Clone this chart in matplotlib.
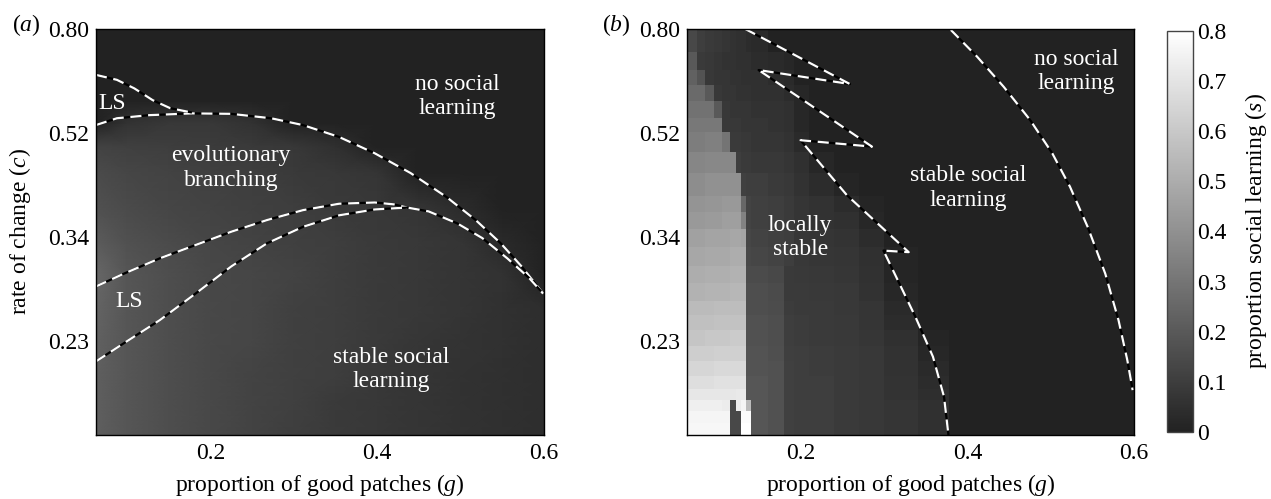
import numpy as np
import matplotlib
matplotlib.use("Agg")
import matplotlib.pyplot as plt
from matplotlib.colors import LinearSegmentedColormap
from matplotlib.ticker import NullLocator

plt.rcParams['font.family'] = ['Liberation Serif', 'DejaVu Serif']
plt.rcParams['mathtext.fontset'] = 'custom'
plt.rcParams['mathtext.rm'] = 'Liberation Serif'
plt.rcParams['mathtext.it'] = 'Liberation Serif:italic'
plt.rcParams['font.size'] = 17

# ---- axes ticks ----
g_ticks = [0.2, 0.4, 0.6]
g_tick_labels = ['0.2', '0.4', '0.6']
c_ticks = [0.23, 0.3486, 0.528, 0.80]
c_tick_labels = ['0.23', '0.34', '0.52', '0.80']
s_ticks = [0, 0.1, 0.2, 0.3, 0.4, 0.5, 0.6, 0.7, 0.8]
s_tick_labels = ['0', '0.1', '0.2', '0.3', '0.4', '0.5', '0.6', '0.7', '0.8']

# ---- panel (a): proportion social learning, smooth grid (rows bottom -> top) ----
g_a = [0.063, 0.1, 0.15, 0.2, 0.25, 0.3, 0.35, 0.4, 0.45, 0.5, 0.55, 0.6]
c_a = [0.158, 0.18, 0.2, 0.23, 0.26, 0.3, 0.34, 0.39, 0.45, 0.5, 0.55, 0.6, 0.7, 0.8]
s_a = [
    [.22, .19, .16, .14, .12, .10, .09, .08, .07, .06, .05, .045],
    [.22, .19, .16, .14, .12, .11, .09, .08, .07, .06, .05, .045],
    [.22, .19, .16, .14, .12, .11, .10, .08, .07, .06, .05, .045],
    [.23, .19, .16, .14, .13, .11, .10, .09, .075, .065, .055, .045],
    [.24, .19, .16, .14, .13, .11, .10, .09, .08, .07, .055, .045],
    [.25, .19, .16, .14, .13, .12, .10, .09, .08, .07, .06, 0],
    [.21, .17, .15, .13, .12, .11, .10, .09, .08, .07, .03, 0],
    [.17, .15, .13, .12, .11, .10, .09, .08, .07, .04, 0, 0],
    [.15, .13, .12, .11, .10, .09, .08, .07, 0, 0, 0, 0],
    [.12, .11, .10, .095, .09, .08, .05, 0, 0, 0, 0, 0],
    [0, .06, .08, .08, .06, 0, 0, 0, 0, 0, 0, 0],
    [0, 0, 0, 0, 0, 0, 0, 0, 0, 0, 0, 0],
    [0, 0, 0, 0, 0, 0, 0, 0, 0, 0, 0, 0],
    [0, 0, 0, 0, 0, 0, 0, 0, 0, 0, 0, 0],
]

# boundary curves in (a)
g_a_upper = [0.063, 0.088, 0.127, 0.178, 0.225, 0.273, 0.311, 0.354, 0.397, 0.440, 0.483, 0.518, 0.548, 0.573, 0.599]
c_a_upper = [0.545, 0.560, 0.567, 0.571, 0.570, 0.560, 0.545, 0.520, 0.487, 0.450, 0.409, 0.373, 0.340, 0.310, 0.278]
g_a_ls = [0.063, 0.088, 0.109, 0.131, 0.152, 0.178]
c_a_ls = [0.666, 0.653, 0.631, 0.602, 0.583, 0.573]
g_a_mid = [0.063, 0.0965, 0.1395, 0.1824, 0.2254, 0.2683, 0.3113, 0.3543, 0.3972, 0.4200, 0.436]
c_a_mid = [0.286, 0.301, 0.320, 0.3375, 0.356, 0.373, 0.388, 0.398, 0.400, 0.397, 0.392]
g_a_low = [0.063, 0.0965, 0.1395, 0.1824, 0.2254, 0.2683, 0.3113, 0.3543, 0.397, 0.436, 0.4617, 0.496, 0.526, 0.556, 0.582, 0.599]
c_a_low = [0.212, 0.228, 0.250, 0.278, 0.310, 0.340, 0.363, 0.380, 0.389, 0.392, 0.386, 0.368, 0.347, 0.320, 0.296, 0.278]

# ---- panel (b): grid with cell edges (rows bottom -> top) ----
g_b = [0.063, 0.075, 0.085, 0.095, 0.105, 0.115, 0.122, 0.128, 0.134, 0.14,
       0.16, 0.18, 0.192, 0.21, 0.24, 0.27, 0.30, 0.34, 0.378, 0.6]
c_b = [0.158, 0.166, 0.174, 0.182, 0.19, 0.2, 0.212, 0.225, 0.24, 0.255, 0.27,
       0.29, 0.31, 0.335, 0.36, 0.385, 0.41, 0.45, 0.49, 0.53, 0.56, 0.6,
       0.64, 0.68, 0.73, 0.8]
s_b = [
    [.77, .77, .77, .77, .77, .14, .14, .80, .80, .19, .17, .11, .10, .10, .09, .08, .07, .05, 0],
    [.76, .76, .76, .76, .76, .14, .14, .79, .79, .19, .17, .11, .10, .10, .09, .08, .07, .05, 0],
    [.74, .74, .74, .74, .73, .14, .73, .76, .55, .19, .17, .11, .10, .10, .09, .08, .07, .05, 0],
    [.71, .71, .71, .71, .71, .71, .72, .72, .19, .19, .17, .11, .10, .10, .09, .08, .065, .045, 0],
    [.68, .68, .68, .69, .69, .69, .69, .69, .19, .19, .17, .11, .10, .10, .09, .08, .065, .04, 0],
    [.65, .65, .65, .66, .66, .66, .66, .66, .18, .18, .17, .11, .10, .095, .09, .08, .06, .03, 0],
    [.62, .62, .62, .63, .63, .63, .63, .63, .18, .18, .165, .105, .10, .095, .09, .08, .06, .02, 0],
    [.59, .59, .60, .60, .60, .61, .61, .61, .17, .17, .16, .10, .095, .09, .085, .075, .05, .01, 0],
    [.57, .57, .57, .58, .58, .58, .58, .58, .17, .17, .16, .10, .095, .09, .085, .07, .04, 0, 0],
    [.55, .55, .55, .56, .56, .56, .56, .56, .16, .16, .155, .095, .09, .09, .08, .07, .03, 0, 0],
    [.52, .52, .53, .53, .53, .54, .54, .54, .16, .16, .15, .09, .09, .085, .08, .06, .02, 0, 0],
    [.50, .50, .51, .51, .51, .52, .52, .52, .15, .15, .14, .09, .085, .08, .075, .055, .01, 0, 0],
    [.48, .48, .49, .49, .49, .50, .50, .50, .14, .13, .12, .10, .08, .075, .07, .05, .01, 0, 0],
    [.46, .46, .47, .47, .47, .48, .48, .47, .13, .12, .11, .10, .075, .07, .065, .04, 0, 0, 0],
    [.43, .43, .44, .44, .45, .45, .45, .35, .12, .11, .10, .09, .07, .06, .05, .02, 0, 0, 0],
    [.41, .41, .42, .42, .43, .43, .43, .25, .12, .11, .10, .09, .07, .06, .04, .01, 0, 0, 0],
    [.39, .39, .40, .40, .40, .40, .40, .11, .10, .10, .09, .08, .06, .04, .01, 0, 0, 0, 0],
    [.36, .36, .37, .37, .37, .37, .10, .09, .09, .08, .08, .07, .05, .02, 0, 0, 0, 0, 0],
    [.33, .33, .34, .34, .30, .09, .09, .08, .08, .07, .07, .06, .03, 0, 0, 0, 0, 0, 0],
    [.31, .31, .31, .31, .08, .08, .08, .07, .07, .07, .06, .05, .02, 0, 0, 0, 0, 0, 0],
    [.29, .29, .29, .20, .08, .07, .07, .07, .07, .06, .06, .05, .02, 0, 0, 0, 0, 0, 0],
    [.26, .26, .20, .08, .07, .07, .06, .06, .06, .05, .05, .04, .02, 0, 0, 0, 0, 0, 0],
    [.23, .18, .08, .07, .07, .06, .06, .05, .05, .05, .04, .03, 0, 0, 0, 0, 0, 0, 0],
    [.20, .09, .08, .07, .06, .06, .05, .05, .05, .04, .03, .02, 0, 0, 0, 0, 0, 0, 0],
    [.14, .10, .09, .08, .07, .06, .05, .05, .04, .03, 0, 0, 0, 0, 0, 0, 0, 0, 0],
]

# boundary curves in (b)
g_b_left = [0.133, 0.2588, 0.149, 0.2853, 0.1994, 0.255, 0.3294, 0.2991, 0.3161, 0.3373, 0.3585, 0.3718, 0.3771]
c_b_left = [0.80, 0.642, 0.679, 0.500, 0.513, 0.412, 0.328, 0.330, 0.2935, 0.2535, 0.216, 0.184, 0.158]
g_b_right = [0.380, 0.4116, 0.4435, 0.4753, 0.5018, 0.5231, 0.5443, 0.5655, 0.5814, 0.592, 0.5984]
c_b_right = [0.797, 0.716, 0.635, 0.556, 0.487, 0.426, 0.363, 0.301, 0.250, 0.213, 0.189]

cmap = LinearSegmentedColormap.from_list('soc', ['#222222', '#ffffff'])


def dashed(ax, g, c):
    ax.plot(g, c, color='black', lw=1.6, solid_capstyle='butt')
    ax.plot(g, c, color='white', lw=1.6, dashes=(5, 3))


def style(ax):
    ax.set_yscale('log')
    ax.set_xlim(0.063, 0.6)
    ax.set_ylim(0.158, 0.8)
    ax.set_xticks(g_ticks)
    ax.set_xticklabels(g_tick_labels)
    ax.set_yticks(c_ticks)
    ax.set_yticklabels(c_tick_labels)
    ax.yaxis.set_minor_locator(NullLocator())
    ax.tick_params(axis='both', length=0)
    ax.tick_params(axis='x', pad=6)
    ax.tick_params(axis='y', pad=5)
    for sp in ax.spines.values():
        sp.set_linewidth(1.0)
    ax.set_xlabel('proportion of good patches ($g$)')
    ax.xaxis.set_label_coords(0.5, -0.092)


fig = plt.figure(figsize=(12.71, 4.99), dpi=100)
ax_a = fig.add_axes([0.0755, 0.1283, 0.3525, 0.8136])
ax_b = fig.add_axes([0.5405, 0.1283, 0.3517, 0.8136])
cax = fig.add_axes([0.9182, 0.1343, 0.0205, 0.8036])

ax_a.pcolormesh(g_a, c_a, np.array(s_a), shading='gouraud', cmap=cmap, vmin=0, vmax=0.8)
dashed(ax_a, g_a_upper, c_a_upper)
dashed(ax_a, g_a_ls, c_a_ls)
dashed(ax_a, g_a_mid, c_a_mid)
dashed(ax_a, g_a_low, c_a_low)
style(ax_a)
ax_a.set_ylabel('rate of change ($c$)')
ax_a.yaxis.set_label_coords(-0.14, 0.5)

txt = dict(color='white', ha='center', va='center', linespacing=1.2)
ax_a.text(0.083, 0.595, 'LS', **txt)
ax_a.text(0.496, 0.610, 'no social\nlearning', **txt)
ax_a.text(0.225, 0.459, 'evolutionary\nbranching', **txt)
ax_a.text(0.103, 0.269, 'LS', **txt)
ax_a.text(0.417, 0.205, 'stable social\nlearning', **txt)

mesh = ax_b.pcolormesh(g_b, c_b, np.array(s_b), shading='flat', cmap=cmap, vmin=0, vmax=0.8)
dashed(ax_b, g_b_left, c_b_left)
dashed(ax_b, g_b_right, c_b_right)
style(ax_b)
ax_b.text(0.531, 0.675, 'no social\nlearning', **txt)
ax_b.text(0.401, 0.424, 'stable social\nlearning', **txt)
ax_b.text(0.199, 0.348, 'locally\nstable', **txt)

cb = fig.colorbar(mesh, cax=cax, ticks=s_ticks)
cb.ax.set_yticklabels(s_tick_labels)
cb.ax.tick_params(length=0, pad=3)
cb.outline.set_edgecolor('#444444')
cb.outline.set_linewidth(1.0)
cb.set_label('proportion social learning ($s$)', labelpad=12)

fig.text(12 / 1271, 1 - 25 / 499, '($a$)', ha='left', va='center')
fig.text(602 / 1271, 1 - 25 / 499, '($b$)', ha='left', va='center')

fig.savefig('out.png', dpi=100)
